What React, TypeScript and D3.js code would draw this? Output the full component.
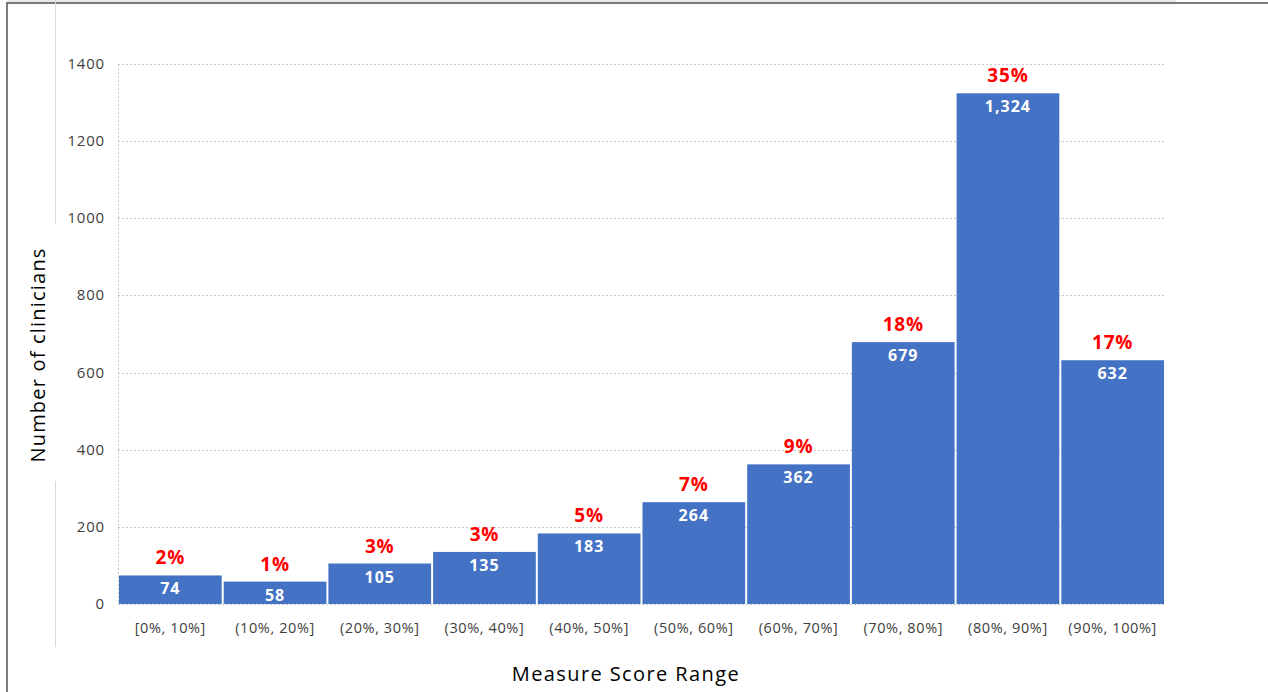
import React from "react";
import * as d3 from "d3";

const categories = [
  "[0%, 10%]",
  "(10%, 20%]",
  "(20%, 30%]",
  "(30%, 40%]",
  "(40%, 50%]",
  "(50%, 60%]",
  "(60%, 70%]",
  "(70%, 80%]",
  "(80%, 90%]",
  "(90%, 100%]",
];
const counts = [74, 58, 105, 135, 183, 264, 362, 679, 1324, 632];
const shares = ["2%", "1%", "3%", "3%", "5%", "7%", "9%", "18%", "35%", "17%"];
const yTicks = [0, 200, 400, 600, 800, 1000, 1200, 1400];

const W = 1268;
const H = 692;
const plot = { left: 118, right: 1165, top: 64, bottom: 604 };
const FONT = "'Century Gothic', 'Open Sans', 'Noto Sans', sans-serif";
const textColor = "#404040";

export default function App() {
  const x = d3
    .scaleBand<string>()
    .domain(categories)
    .range([plot.left, plot.right])
    .paddingInner(0)
    .paddingOuter(0);
  const y = d3.scaleLinear().domain([0, 1400]).range([plot.bottom, plot.top]);
  const fmt = d3.format(",");

  return (
    <svg
      width={W}
      height={H}
      style={{ position: "absolute", left: 0, top: 0, background: "#fff" }}
      fontFamily={FONT}
    >
      {/* outer frame */}
      <line x1={7} x2={1176} y1={1} y2={1} stroke="#d0d0d0" strokeWidth={1} />
      <line x1={6} x2={W} y1={3} y2={3} stroke="#7a7a7a" strokeWidth={2} />
      <line x1={7} x2={7} y1={3} y2={H} stroke="#7a7a7a" strokeWidth={2} />
      {/* faint guide lines at the left */}
      <line x1={55.5} x2={55.5} y1={0} y2={224} stroke="#d8d8d8" strokeWidth={1} />
      <line x1={55.5} x2={55.5} y1={481} y2={647} stroke="#d8d8d8" strokeWidth={1} />

      {/* gridlines */}
      {yTicks.map((t) => (
        <line
          key={t}
          x1={plot.left}
          x2={plot.right}
          y1={Math.round(y(t)) + 0.5}
          y2={Math.round(y(t)) + 0.5}
          stroke="#c8c8c8"
          strokeDasharray="2,2"
        />
      ))}
      <line
        x1={plot.left + 0.5}
        x2={plot.left + 0.5}
        y1={plot.top}
        y2={plot.bottom}
        stroke="#c8c8c8"
        strokeDasharray="2,2"
      />

      {/* bars */}
      {counts.map((v, i) => {
        const x0 = x(categories[i])!;
        return (
          <rect
            key={i}
            x={x0 + 1}
            y={y(v)}
            width={x.bandwidth() - 2}
            height={plot.bottom - y(v)}
            fill="#4472c4"
          />
        );
      })}

      {/* value labels inside bars */}
      {counts.map((v, i) => (
        <text
          key={i}
          x={x(categories[i])! + x.bandwidth() / 2}
          y={y(v) + 19}
          textAnchor="middle"
          fill="#fff"
          fontSize={16}
          fontWeight="bold"
          letterSpacing={1}
          fontFamily="'Open Sans', sans-serif"
        >
          {fmt(v)}
        </text>
      ))}

      {/* share labels above bars */}
      {counts.map((v, i) => (
        <text
          key={i}
          x={x(categories[i])! + x.bandwidth() / 2}
          y={y(v) - 11}
          textAnchor="middle"
          fill="#ff0000"
          fontSize={19}
          fontWeight="bold"
          letterSpacing={0.8}
        >
          {shares[i]}
        </text>
      ))}

      {/* y tick labels */}
      {yTicks.map((t) => (
        <text
          key={t}
          x={105}
          y={y(t) + 5}
          textAnchor="end"
          fill={textColor}
          fontSize={15}
          letterSpacing={0.8}
        >
          {t}
        </text>
      ))}

      {/* x category labels */}
      {categories.map((c) => (
        <text
          key={c}
          x={x(c)! + x.bandwidth() / 2}
          y={633}
          textAnchor="middle"
          fill={textColor}
          fontSize={14.5}
          letterSpacing={0.6}
        >
          {c}
        </text>
      ))}

      {/* axis titles */}
      <text
        transform="translate(45,355) rotate(-90)"
        textAnchor="middle"
        fill="#000"
        fontSize={20}
        letterSpacing={1.2}
      >
        Number of clinicians
      </text>
      <text
        x={626}
        y={681}
        textAnchor="middle"
        fill="#000"
        fontSize={20}
        letterSpacing={1.4}
      >
        Measure Score Range
      </text>
    </svg>
  );
}
